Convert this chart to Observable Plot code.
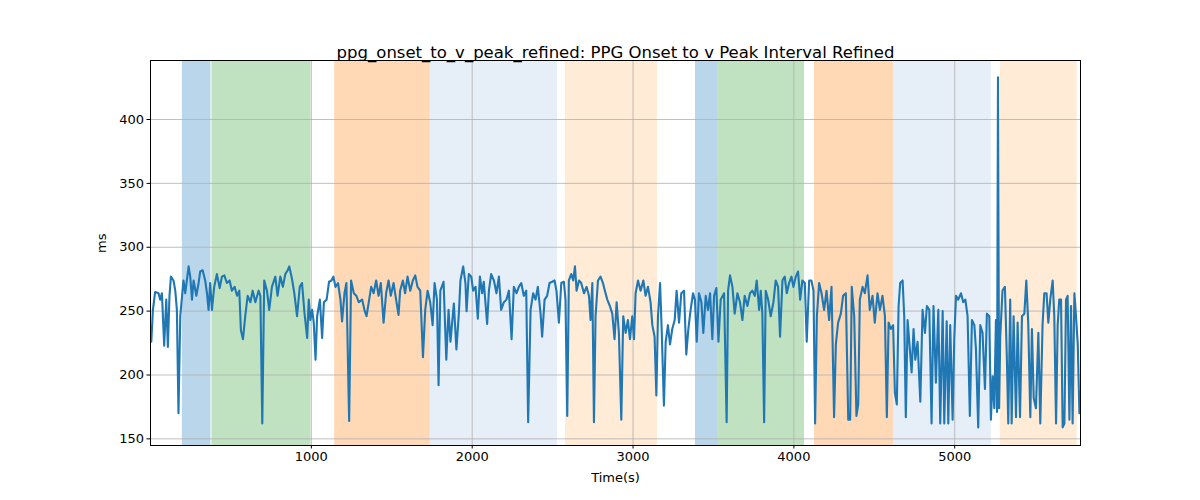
<!DOCTYPE html>
<html><head><meta charset="utf-8">
<script src="https://cdn.jsdelivr.net/npm/d3@7"></script>
<script src="https://cdn.jsdelivr.net/npm/@observablehq/plot@0.6"></script>
<style>body{margin:0;background:#fff;} </style>
</head><body><div id="chart"></div>
<script>
const times = [5,15,29,50,60,71,85,98,108,118,127,143,154,164,174,185,205,216,237,247,258,268,285,299,309,324,340,351,361,371,382,396,413,430,444,459,475,492,506,523,538,552,562,575,589,604,621,635,652,672,683,695,707,724,738,755,776,790,807,823,838,853,863,880,894,911,928,942,957,974,984,994,1005,1015,1026,1036,1053,1067,1078,1095,1110,1125,1137,1150,1166,1181,1191,1206,1218,1235,1247,1264,1280,1295,1316,1330,1343,1357,1372,1387,1403,1418,1432,1449,1465,1480,1494,1511,1527,1542,1552,1569,1583,1598,1615,1631,1646,1660,1677,1694,1708,1723,1739,1754,1766,1781,1791,1802,1822,1839,1853,
1865,1886,1902,1917,1927,1944,1958,1965,1979,1994,2006,2021,2035,2048,2062,2072,2093,2104,2118,2135,2151,2166,2180,2197,2213,2228,2245,2259,2276,2290,2305,2321,2336,2348,2363,2379,2394,2408,2425,2435,2450,2466,2481,2498,2512,2524,2539,2554,2570,2580,2591,2601,2616,2628,2639,2649,2664,2678,2695,2711,2726,2736,2747,2757,2767,2782,2798,2813,2825,2840,2856,2871,2885,2898,2912,2927,2939,2954,2968,2981,2995,3006,3016,3031,3047,3064,3078,3093,3109,3120,3134,3145,3155,3168,3178,3192,3203,3217,3230,3244,3259,3271,3286,3300,3317,3331,3344,3358,3373,3385,3396,3410,3425,3437,3452,3466,3479,3493,3504,3518,3531,3545,3566,3582,3591,3603,3618,3632,3649,3665,3680,3694,3711,3727,3742,3757,3769,3784,
3794,3804,3815,3825,3840,3856,3873,3887,3902,3914,3929,3943,3956,3970,3985,3997,4012,4026,4039,4053,4068,4080,4095,4109,4122,4132,4143,4157,4172,4188,4203,4219,4234,4250,4261,4275,4292,4306,4323,4338,4350,4360,4375,4389,4400,4410,4427,4441,4458,4472,4489,4503,4520,4535,4551,4566,4578,4589,4603,4617,4628,4640,4651,4661,4676,4686,4696,4707,4721,4732,4744,4755,4769,4786,4800,4815,4827,4842,4856,4868,4883,4898,4910,4925,4935,4950,4960,4972,4987,4997,5008,5022,5039,5053,5066,5080,5094,5107,5122,5132,5146,5159,5173,5188,5200,5215,5225,5236,5246,5256,5263,5269,5276,5283,5297,5312,5324,5333,5345,5354,5366,5381,5391,5406,5418,5433,5445,5457,5470,5480,5491,5505,5520,5532,5546,5557,5571,5582,5594,5609,5619,5630,5640,5650,5661,5671,5682,5692,5702,5713,5723,5733,5744,5754,5765,5775,5781];
const values = [226,251,265,264,259,264,223,259,222,262,277,274,266,251,170,246,274,264,285,277,259,274,262,272,281,282,274,264,251,272,251,269,279,268,277,278,272,274,266,269,262,266,235,228,246,262,257,266,257,266,262,162,274,266,251,269,277,262,277,269,279,282,285,275,264,246,269,272,249,229,259,243,251,241,212,246,259,229,257,259,273,274,277,269,272,259,242,264,272,164,274,264,262,257,259,251,246,257,269,264,274,262,272,241,264,274,262,272,259,247,266,274,264,277,266,274,278,269,266,214,251,266,257,239,272,259,192,266,273,212,251,
226,256,220,248,274,285,272,250,279,277,266,269,244,277,264,273,240,266,279,274,264,277,251,257,259,266,228,269,264,269,272,262,266,163,251,264,259,269,248,230,259,262,272,273,274,266,241,272,273,259,168,274,279,274,285,266,274,272,264,269,262,243,272,163,246,274,277,272,266,259,254,248,228,257,233,165,246,233,243,228,246,228,264,274,266,274,262,269,257,239,230,184,246,272,236,176,226,239,224,236,243,266,241,264,266,216,236,251,264,259,226,264,257,233,262,251,264,228,262,268,226,259,264,163,266,278,269,248,264,257,243,262,254,264,266,262,274,251,
266,248,163,266,259,246,257,274,269,230,274,277,264,272,277,269,277,281,259,274,272,226,274,274,266,162,246,272,264,251,266,243,269,167,224,241,248,262,264,165,165,269,246,168,177,259,269,264,278,251,262,241,264,251,262,246,167,241,236,239,186,177,254,272,274,246,167,243,220,202,236,212,226,179,251,233,254,251,162,254,194,251,162,250,162,242,162,239,165,228,262,259,264,257,259,246,168,243,239,220,159,239,233,189,248,246,165,199,174,243,171,433,174,230,266,269,214,162,259,162,246,167,241,167,246,248,274,241,167,236,182,174,233,162,239,264,264,241,259,274,246,162,239,259,259,159,162,259,262,165,254,162,264,246,224,170,186];

const bandStart = [198,382,1145,1740,2580,3388,3525,4128,4619,5284];
const bandEnd   = [376,998,1740,2530,3152,3525,4066,4619,5227,5761];
const bandColor = ["#bad6ea","#c0e2c0","#ffd8b6","#e6eef8","#ffebd6","#bad6ea","#c0e2c0","#ffd8b6","#e6eef8","#ffebd6"];
const xTicks = [1000,2000,3000,4000,5000];
const yTicks = [150,200,250,300,350,400];
const titleText = "ppg_onset_to_v_peak_refined: PPG Onset to v Peak Interval Refined";

const series = times.map((t,i)=>({t, v: values[i]}));
const bands = bandStart.map((s,i)=>({x1:s, x2:bandEnd[i], fill:bandColor[i]}));

const chart = Plot.plot({
  width: 1200, height: 500,
  marginLeft: 150, marginRight: 120, marginTop: 60, marginBottom: 55,
  style: {fontFamily: "DejaVu Sans", fontSize: "13px", color: "#000", background: "#fff"},
  x: {domain: [0, 5782]},
  y: {domain: [144.8, 446.2]},
  color: {type: "identity"},
  marks: [
    Plot.rect(bands, {x1: "x1", x2: "x2", fill: "fill"}),
    Plot.gridX(xTicks, {stroke: "#b0b0b0", strokeOpacity: 1, strokeWidth: 0.8}),
    Plot.gridY(yTicks, {stroke: "#b0b0b0", strokeOpacity: 1, strokeWidth: 0.8}),
    Plot.line(series, {x: "t", y: "v", stroke: "#1f77b4", strokeWidth: 2.1, strokeLinejoin: "round", clip: true}),
    Plot.frame({stroke: "#000", strokeWidth: 1}),
    Plot.axisX(xTicks, {tickSize: 3.5, tickPadding: 3, tickFormat: d => String(d), label: null, fontSize: 13}),
    Plot.axisY(yTicks, {tickSize: 3.5, tickPadding: 3, tickFormat: d => String(d), label: null, fontSize: 13}),
    Plot.text([titleText], {frameAnchor: "top", dy: -14, text: d => d, fontSize: 16.5, fill: "#000"}),
    Plot.text(["Time(s)"], {frameAnchor: "bottom", dy: 36, text: d => d, fontSize: 13, fill: "#000"}),
    Plot.text(["ms"], {frameAnchor: "left", dx: -49, rotate: -90, text: d => d, fontSize: 13, fill: "#000"})
  ]
});
document.getElementById("chart").appendChild(chart);
</script>
</body></html>
